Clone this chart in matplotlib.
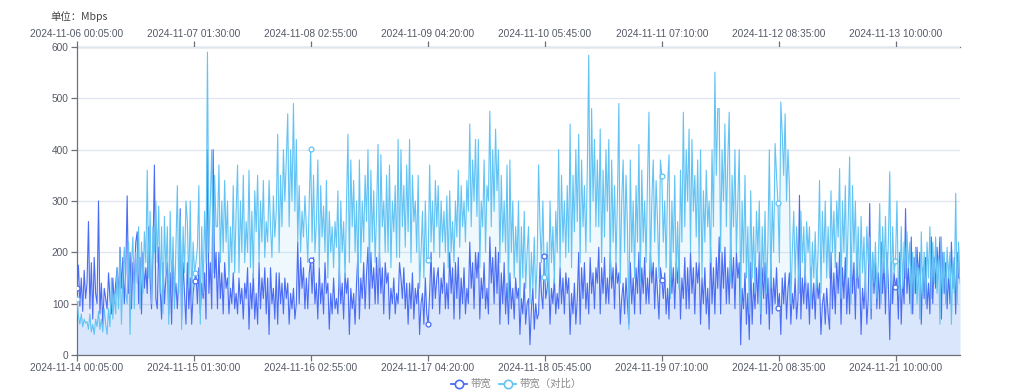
import numpy as np
import pandas as pd
import matplotlib
matplotlib.use("Agg")
import matplotlib.pyplot as plt
from matplotlib.lines import Line2D

plt.rcParams['font.family'] = ['Liberation Sans', 'Noto Sans CJK SC', 'DejaVu Sans']

# ---------------- data (sampled reading of the picture) ----------------
n_points = 2304  # 8 days of 5-minute samples
times_main = pd.date_range('2024-11-14 00:05:00', periods=n_points, freq='5min')
times_cmp = pd.date_range('2024-11-06 00:05:00', periods=n_points, freq='5min')
tick_step = 305

bandwidth = [
    130, 175, 95, 150, 85, 165, 110, 140, 260, 90, 180, 70, 190, 120,
    100, 300, 80, 140, 60, 130, 110, 90, 160, 110, 80, 150, 100, 140,
    170, 110, 210, 130, 190, 100, 160, 310, 120, 200, 90, 180, 140, 220,
    240, 100, 190, 80, 200, 130, 170, 120, 250, 150, 90, 200, 370, 110,
    90, 210, 130, 70, 180, 100, 150, 180, 80, 160, 60, 200, 110, 140,
    90, 150, 285, 70, 180, 120, 60, 180, 90, 150, 60, 120, 145, 160,
    100, 170, 80, 140, 110, 160, 70, 400, 120, 180, 90, 400, 150, 200,
    90, 200, 110, 160, 80, 180, 130, 150, 80, 130, 100, 160, 90, 120,
    80, 150, 100, 130, 70, 140, 110, 170, 50, 140, 90, 160, 70, 120,
    60, 180, 90, 150, 110, 170, 80, 150, 40, 170, 100, 130, 70, 160,
    60, 160, 100, 140, 80, 150, 110, 140, 60, 120, 90, 130, 70, 100,
    220, 100, 190, 130, 170, 90, 150, 90, 160, 185, 120, 190, 100, 140,
    70, 170, 100, 140, 80, 180, 120, 140, 50, 120, 80, 150, 90, 110,
    80, 170, 100, 140, 70, 160, 120, 150, 40, 130, 90, 120, 60, 140,
    200, 70, 150, 110, 180, 90, 160, 210, 90, 200, 130, 170, 100, 190,
    100, 200, 120, 170, 80, 180, 140, 160, 70, 130, 100, 150, 80, 120,
    100, 180, 150, 110, 170, 90, 140, 60, 140, 90, 160, 70, 130, 100,
    140, 40, 100, 120, 60, 150, 80, 60, 120, 200, 90, 170, 110, 150,
    170, 80, 150, 120, 180, 90, 140, 90, 200, 120, 170, 70, 180, 110,
    190, 70, 150, 100, 170, 80, 130, 100, 220, 130, 180, 90, 200, 150,
    200, 70, 150, 110, 180, 90, 130, 80, 230, 140, 190, 100, 210, 120,
    200, 60, 160, 100, 180, 80, 140, 60, 160, 90, 130, 70, 150, 110,
    130, 40, 110, 80, 140, 60, 100, 110, 20, 90, 130, 50, 100, 70,
    80, 180, 120, 90, 193, 110, 130, 160, 60, 130, 100, 150, 80, 120,
    90, 170, 100, 150, 80, 160, 120, 150, 40, 120, 80, 140, 60, 110,
    200, 60, 170, 110, 180, 90, 140, 80, 190, 120, 160, 90, 170, 140,
    210, 80, 170, 120, 190, 100, 150, 100, 200, 130, 170, 90, 180, 140,
    160, 60, 110, 140, 80, 150, 100, 60, 180, 100, 150, 80, 170, 120,
    200, 80, 170, 120, 190, 100, 150, 100, 200, 140, 180, 90, 170, 120,
    70, 170, 147, 110, 160, 80, 130, 70, 200, 120, 170, 90, 180, 140,
    200, 70, 150, 110, 190, 90, 170, 90, 200, 120, 170, 80, 180, 140,
    180, 60, 150, 100, 170, 80, 130, 50, 210, 100, 170, 80, 190, 130,
    230, 80, 200, 130, 210, 100, 170, 100, 220, 130, 190, 90, 200, 150,
    180, 20, 130, 90, 160, 60, 120, 30, 180, 60, 140, 90, 170, 100,
    200, 60, 170, 110, 180, 80, 150, 50, 180, 80, 150, 100, 170, 91,
    120, 40, 150, 100, 160, 70, 130, 160, 60, 120, 90, 150, 70, 110,
    311, 70, 150, 100, 170, 90, 140, 60, 170, 90, 140, 70, 160, 110,
    140, 40, 100, 120, 60, 130, 80, 50, 200, 90, 160, 80, 180, 120,
    200, 60, 170, 110, 190, 80, 150, 80, 210, 120, 180, 70, 190, 130,
    160, 40, 130, 90, 150, 60, 110, 295, 70, 200, 120, 180, 90, 160,
    90, 220, 120, 180, 80, 200, 140, 30, 180, 100, 160, 132, 150, 70,
    200, 60, 150, 100, 285, 120, 170, 100, 230, 80, 190, 120, 210, 150,
    200, 60, 170, 110, 190, 90, 140, 80, 230, 100, 190, 130, 210, 160,
    230, 70, 200, 120, 180, 90, 160, 100, 220, 130, 190, 80, 200, 150,
    150,
]

bandwidth_cmp = [
    110, 75, 60, 80, 55, 70, 62, 65, 50, 80, 45, 60, 40, 70,
    55, 85, 50, 70, 45, 90, 60, 40, 90, 55, 150, 70, 120, 80,
    170, 90, 200, 60, 150, 210, 120, 100, 220, 40, 180, 230, 90, 200,
    140, 250, 90, 220, 120, 240, 180, 360, 150, 280, 100, 250, 200, 300,
    180, 290, 120, 250, 80, 270, 160, 250, 60, 280, 130, 230, 90, 210,
    330, 120, 270, 50, 250, 160, 300, 260, 130, 300, 100, 220, 160, 180,
    210, 330, 60, 250, 120, 280, 180, 590, 200, 300, 400, 160, 350, 250,
    250, 370, 180, 300, 200, 340, 220, 300, 130, 250, 180, 330, 160, 280,
    370, 160, 300, 200, 350, 180, 260, 200, 360, 170, 280, 150, 320, 240,
    350, 180, 300, 220, 340, 190, 260, 220, 340, 250, 190, 310, 230, 280,
    430, 200, 350, 250, 400, 300, 380, 470, 250, 400, 300, 490, 280, 420,
    220, 330, 200, 280, 230, 310, 250, 180, 300, 402, 220, 350, 200, 260,
    380, 170, 330, 230, 290, 200, 340, 150, 280, 200, 250, 170, 260, 210,
    320, 130, 300, 200, 260, 150, 290, 430, 180, 380, 250, 340, 200, 300,
    150, 380, 180, 300, 220, 350, 260, 400, 150, 360, 220, 320, 180, 280,
    410, 170, 390, 250, 300, 200, 350, 200, 370, 170, 300, 240, 330, 190,
    420, 190, 400, 250, 330, 210, 370, 240, 420, 180, 350, 260, 300, 200,
    350, 130, 200, 280, 150, 300, 180, 186, 370, 220, 300, 200, 340, 250,
    330, 190, 300, 220, 280, 200, 310, 170, 320, 200, 260, 180, 300, 230,
    360, 210, 330, 250, 300, 220, 340, 280, 450, 250, 380, 300, 420, 270,
    420, 170, 300, 250, 380, 200, 330, 300, 475, 250, 400, 280, 440, 320,
    400, 180, 350, 220, 300, 200, 370, 110, 380, 200, 300, 150, 250, 180,
    300, 100, 250, 150, 280, 130, 200, 250, 100, 200, 130, 230, 110, 180,
    370, 250, 180, 300, 151, 140, 220, 120, 300, 180, 250, 140, 280, 200,
    400, 170, 350, 220, 300, 190, 330, 200, 450, 170, 350, 240, 400, 260,
    430, 180, 380, 250, 330, 200, 360, 584, 220, 480, 300, 420, 250, 380,
    250, 440, 180, 360, 230, 400, 280, 420, 150, 380, 220, 330, 180, 300,
    490, 140, 300, 380, 200, 350, 250, 50, 380, 200, 300, 150, 330, 220,
    410, 140, 360, 220, 300, 180, 340, 473, 160, 300, 380, 220, 340, 260,
    150, 380, 348, 220, 300, 170, 330, 390, 110, 300, 200, 350, 150, 260,
    130, 360, 220, 473, 250, 400, 300, 440, 200, 420, 280, 350, 230, 380,
    180, 400, 150, 320, 220, 360, 250, 300, 180, 400, 250, 551, 350, 480,
    480, 200, 400, 300, 450, 250, 380, 473, 140, 350, 250, 400, 200, 300,
    400, 100, 300, 180, 350, 150, 250, 80, 320, 150, 250, 120, 280, 200,
    300, 80, 250, 150, 280, 120, 220, 400, 130, 300, 200, 412, 350, 297,
    180, 493, 430, 350, 470, 300, 400, 330, 100, 200, 280, 150, 250, 180,
    120, 280, 180, 250, 140, 260, 200, 250, 100, 220, 150, 240, 130, 200,
    340, 120, 280, 180, 300, 150, 250, 150, 320, 200, 280, 170, 300, 230,
    363, 110, 300, 200, 330, 150, 260, 386, 100, 330, 200, 300, 150, 250,
    120, 270, 160, 230, 110, 250, 180, 230, 90, 200, 140, 220, 110, 180,
    295, 100, 250, 160, 270, 130, 220, 357, 100, 250, 160, 184, 300, 130,
    110, 250, 130, 220, 150, 240, 170, 220, 80, 200, 120, 210, 100, 170,
    70, 240, 120, 200, 100, 220, 150, 250, 110, 220, 140, 230, 120, 190,
    60, 230, 120, 200, 100, 210, 150, 200, 60, 180, 120, 315, 100, 220,
    140,
]

y_ticks = [0, 100, 200, 300, 400, 500, 600]
legend_labels = ['带宽', '带宽（对比）']
unit_label = '单位：Mbps'

# ---------------- styles ----------------
c_main = '#4b6cf5'
c_cmp = '#62c3f4'
axis_c = '#6e7079'
grid_c = '#e0e6f1'

fig = plt.figure(figsize=(10.23, 3.92), dpi=100)
ax = fig.add_axes([77 / 1023, 1 - 355 / 392, (960 - 77) / 1023, (355 - 47) / 392])

last = n_points - 1
x_main = np.linspace(0, last, len(bandwidth))
x_cmp = np.linspace(0, last, len(bandwidth_cmp))
y_main = np.array(bandwidth, dtype=float)
y_cmp = np.array(bandwidth_cmp, dtype=float)

ax.fill_between(x_cmp, 0, y_cmp, color=c_cmp, alpha=0.10, lw=0, zorder=1)
ax.fill_between(x_main, 0, y_main, color='#5b7cf0', alpha=0.14, lw=0, zorder=1.1)
ax.plot(x_main, y_main, color=c_main, lw=0.8, zorder=3)
ax.plot(x_cmp, y_cmp, color=c_cmp, lw=0.8, zorder=3.5)

tick_idx = np.arange(0, n_points, tick_step)
for xs, ys, c in ((x_main, y_main, c_main), (x_cmp, y_cmp, c_cmp)):
    nearest = [int(np.argmin(np.abs(xs - t))) for t in tick_idx]
    ax.plot(xs[nearest], ys[nearest], ls='none', marker='o', ms=3.5,
            mfc='white', mec=c, mew=0.9, zorder=5)

ax.set_xlim(0, last)
ax.set_ylim(0, 600)
ax.set_yticks(y_ticks)
ax.yaxis.grid(True, color=grid_c, lw=0.9)
ax.set_axisbelow(True)

ax.set_xticks(tick_idx)
ax.set_xticklabels([t.strftime('%Y-%m-%d %H:%M:%S') for t in times_main[tick_idx]])
top = ax.secondary_xaxis('top')
top.set_xticks(tick_idx)
top.set_xticklabels([t.strftime('%Y-%m-%d %H:%M:%S') for t in times_cmp[tick_idx]])

for a in (ax, top):
    a.tick_params(axis='x', colors=axis_c, labelcolor='#555a66', labelsize=7.3,
                  length=4, width=0.9, pad=2)
ax.tick_params(axis='y', colors=axis_c, labelcolor='#555a66', labelsize=7.3,
               length=4, width=0.9, pad=2)

for s in ('left', 'bottom'):
    ax.spines[s].set_color(axis_c)
    ax.spines[s].set_linewidth(0.9)
ax.spines['right'].set_visible(False)
ax.spines['top'].set_visible(False)
top.spines['top'].set_color(axis_c)
top.spines['top'].set_linewidth(0.9)

fig.text(50 / 1023, 1 - 17 / 392, unit_label, fontsize=7.5, color='#444',
         va='center', ha='left', family=['Noto Sans CJK SC', 'DejaVu Sans'])

handles = [Line2D([0], [0], color=c, lw=1.3, marker='o', ms=6, mfc='white',
                  mec=c, mew=1.2) for c in (c_main, c_cmp)]
fig.legend(handles, legend_labels, loc='center', bbox_to_anchor=(516 / 1023, 1 - 384 / 392),
           ncol=2, frameon=False, labelcolor='#888',
           handlelength=1.6, columnspacing=0.8, handletextpad=0.3,
           prop={'family': ['Noto Sans CJK SC', 'DejaVu Sans'], 'size': 7.5})

fig.savefig('out.png', dpi=100)
